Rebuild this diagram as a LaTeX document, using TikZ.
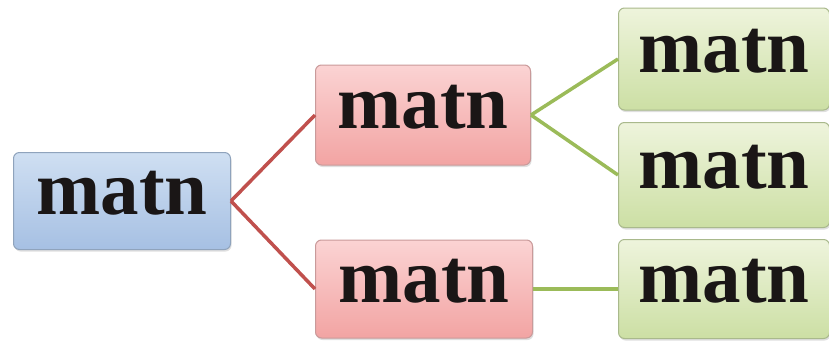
\documentclass[tikz,border=0pt]{standalone}
\usepackage{fontspec}
\setmainfont{Liberation Serif}
\usetikzlibrary{shadows}
\definecolor{bluetop}{HTML}{CFDFF2}
\definecolor{bluebot}{HTML}{A6C0E3}
\definecolor{blueedge}{HTML}{8FA3BC}
\definecolor{redtop}{HTML}{FBD3D3}
\definecolor{redbot}{HTML}{F2A4A3}
\definecolor{rededge}{HTML}{C99A9A}
\definecolor{greentop}{HTML}{EEF4DC}
\definecolor{greenbot}{HTML}{CCDFA4}
\definecolor{greenedge}{HTML}{A9B98C}
\definecolor{redline}{HTML}{C0504D}
\definecolor{greenline}{HTML}{9BBB59}
\definecolor{textcol}{HTML}{1A1616}
\tikzset{
  box/.style={rectangle, rounded corners=6pt, line width=1pt, text=textcol,
    font=\fontsize{77}{80}\selectfont\bfseries, text height=26pt, text depth=0pt,
    inner sep=0pt, drop shadow={opacity=0.25, shadow xshift=1pt, shadow yshift=-2pt}},
  bluebox/.style={box, draw=blueedge, top color=bluetop, bottom color=bluebot},
  redbox/.style={box, draw=rededge, top color=redtop, bottom color=redbot},
  greenbox/.style={box, draw=greenedge, top color=greentop, bottom color=greenbot},
  redlink/.style={draw=redline, line width=3.5pt},
  greenlink/.style={draw=greenline, line width=3.5pt}
}
\begin{document}
\begin{tikzpicture}[x=1pt, y=-1pt]
\useasboundingbox (0,0) rectangle (829,340);
\node[bluebox, minimum width=217pt, minimum height=97pt] (root) at (122,201) {matn};
\node[redbox, minimum width=215pt, minimum height=100pt] (r1) at (423,115) {matn};
\node[redbox, minimum width=217pt, minimum height=98pt] (r2) at (424,289) {matn};
\node[greenbox, minimum width=211pt, minimum height=102pt] (g1) at (724,59) {matn};
\node[greenbox, minimum width=211pt, minimum height=105pt] (g2) at (724,175) {matn};
\node[greenbox, minimum width=211pt, minimum height=99pt] (g3) at (724,289) {matn};
\draw[redlink] (root.east) -- (r1.west);
\draw[redlink] (root.east) -- (r2.west);
\draw[greenlink] (r1.east) -- (g1.west);
\draw[greenlink] (r1.east) -- (g2.west);
\draw[greenlink] (r2.east) -- (g3.west);
\end{tikzpicture}
\end{document}
